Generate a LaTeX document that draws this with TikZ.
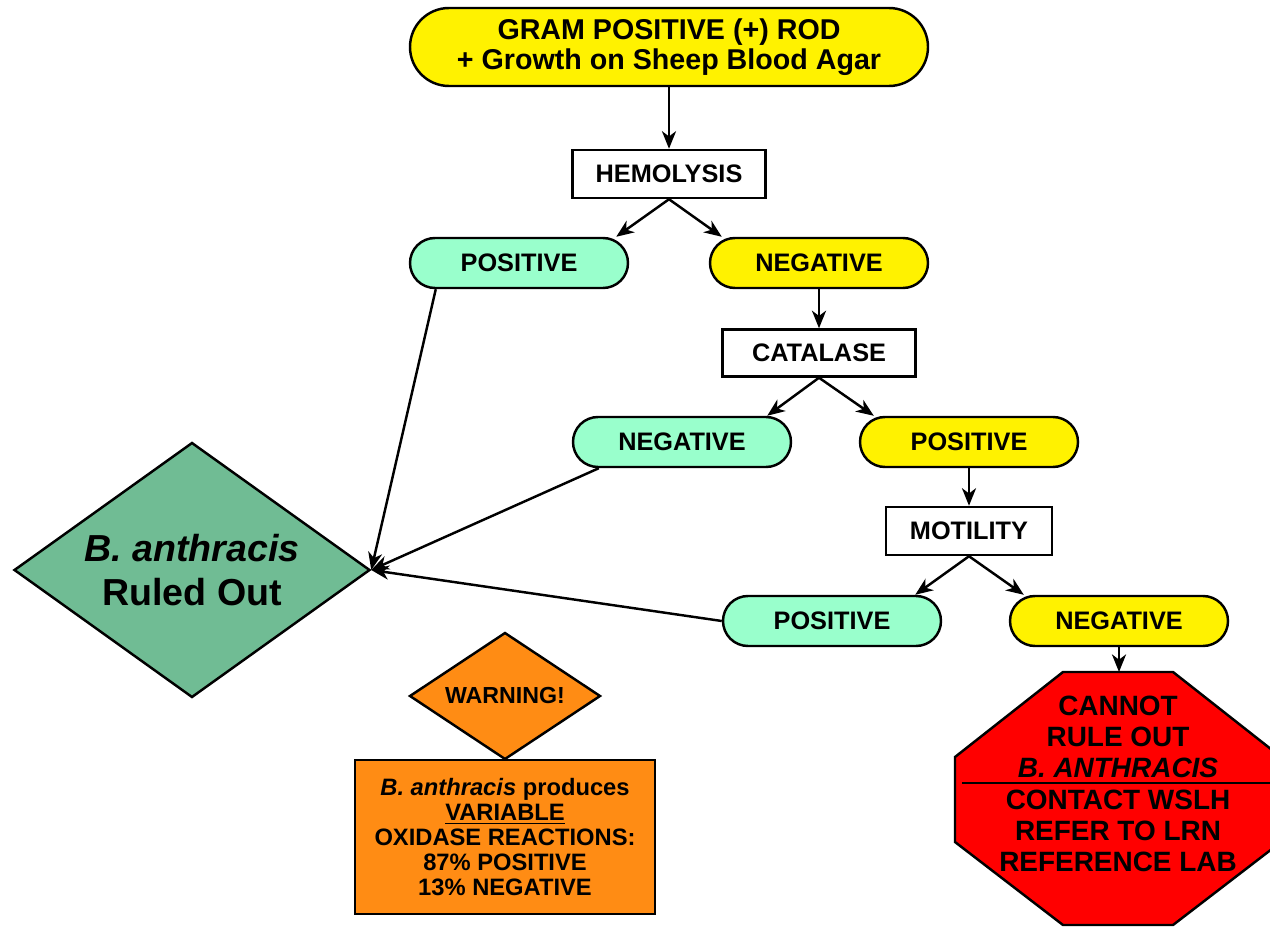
\documentclass[tikz,border=0pt]{standalone}
\usepackage{fontspec}
\setmainfont{Liberation Sans}
\usetikzlibrary{shapes.geometric,arrows.meta}
\definecolor{aqua}{RGB}{153,255,204}
\definecolor{ruledout}{RGB}{112,188,148}
\definecolor{warnorange}{RGB}{255,140,20}
\begin{document}
\begin{tikzpicture}[font=\bfseries]
\tikzstyle{dep}= [-{Stealth[length=10pt,width=8pt,inset=3pt]},line width=1.4pt]
\tikzstyle{test}= [rectangle,draw,line width=1.4pt,fill=white,minimum height=0.96cm,font=\fontsize{14.4}{16}\selectfont\bfseries]
\tikzstyle{res}= [rectangle,draw,line width=1.4pt,rounded corners=0.5cm,minimum width=4.36cm,minimum height=1cm,font=\fontsize{14.4}{16}\selectfont\bfseries]
\tikzstyle{exitres}= [res,fill=aqua]
\tikzstyle{onward}= [res,fill=yellow]
\useasboundingbox (0,0) rectangle (25.4,-18.54);

\path
	(13.38,-0.94) node[onward,rounded corners=0.78cm,minimum width=10.36cm,minimum height=1.56cm,align=center,font=\fontsize{16.3}{17}\selectfont\bfseries] (gram) {GRAM POSITIVE (+) ROD\\+ Growth on Sheep Blood Agar}
	(13.38,-3.48) node[test,minimum width=3.86cm] (hemo) {HEMOLYSIS}
	(10.38,-5.26) node[exitres] (hemopos) {POSITIVE}
	(16.38,-5.26) node[onward] (hemoneg) {NEGATIVE}
	(16.38,-7.06) node[test,minimum width=3.86cm,minimum height=0.94cm] (cat) {CATALASE}
	(13.64,-8.84) node[exitres] (catneg) {NEGATIVE}
	(19.38,-8.84) node[onward] (catpos) {POSITIVE}
	(19.38,-10.62) node[test,minimum width=3.32cm] (mot) {MOTILITY}
	(16.64,-12.42) node[exitres] (motpos) {POSITIVE}
	(22.38,-12.42) node[onward] (motneg) {NEGATIVE}
	(3.84,-11.4) node[diamond,draw,line width=1.4pt,fill=ruledout,inner sep=0pt,aspect=1.4,minimum width=7.12cm,minimum height=5.1cm,align=center,font=\fontsize{21.4}{25}\selectfont\bfseries] (out) {\textit{B. anthracis}\\Ruled Out}
	(10.1,-13.92) node[diamond,draw,line width=1.4pt,fill=warnorange,inner sep=0pt,aspect=1.5,minimum width=3.82cm,minimum height=2.54cm,font=\fontsize{13.2}{14}\selectfont\bfseries] (warn) {WARNING!}
	(10.1,-16.74) node[rectangle,draw,line width=1.4pt,fill=warnorange,minimum width=6cm,minimum height=3.08cm,align=center,font=\fontsize{13.5}{14.2}\selectfont\bfseries] (oxid) {\textit{B. anthracis} produces\\\underline{VARIABLE}\\OXIDASE REACTIONS:\\87\% POSITIVE\\13\% NEGATIVE}
	% stop sign corners
	(21.26,-13.44) coordinate (s1)
	(23.46,-13.44) coordinate (s2)
	(25.62,-15.14) coordinate (s3)
	(25.62,-16.84) coordinate (s4)
	(23.46,-18.5) coordinate (s5)
	(21.26,-18.5) coordinate (s6)
	(19.1,-16.84) coordinate (s7)
	(19.1,-15.14) coordinate (s8)
	(22.38,-13.44) coordinate (stoptop)
	(19.24,-15.66) coordinate (sepl)
	(25.62,-15.66) coordinate (sepr)
;
\draw[line width=1.4pt,fill=red] (s1) -- (s2) -- (s3) -- (s4) -- (s5) -- (s6) -- (s7) -- (s8) -- cycle;
\draw[line width=1.4pt] (sepl) -- (sepr);
\path
	(22.36,-14.74) node[align=center,font=\fontsize{15.9}{17.6}\selectfont\bfseries] (cannot) {CANNOT\\RULE OUT\\\textit{B. ANTHRACIS}}
	(22.36,-16.62) node[align=center,font=\fontsize{15.9}{17.6}\selectfont\bfseries] (refer) {CONTACT WSLH\\REFER TO LRN\\REFERENCE LAB}
;

\draw[dep] (gram) -- (hemo);
\draw[dep] (hemo.south) -- ([xshift=-2.6mm]hemopos.north east);
\draw[dep] (hemo.south) -- ([xshift=2.6mm]hemoneg.north west);
\draw[dep] (hemoneg) -- (cat);
\draw[dep] (cat.south) -- ([xshift=-5mm]catneg.north east);
\draw[dep] (cat.south) -- ([xshift=3mm]catpos.north west);
\draw[dep] (catpos) -- (mot);
\draw[dep] (mot.south) -- ([xshift=-5.4mm]motpos.north east);
\draw[dep] (mot.south) -- ([xshift=3mm]motneg.north west);
\draw[dep] (motneg) -- (stoptop);
\draw[dep] ([xshift=5.4mm]hemopos.south west) -- (out.east);
\draw[dep] ([xshift=5.4mm]catneg.south west) -- (out.east);
\draw[dep] (motpos.west) -- (out.east);
\end{tikzpicture}
\end{document}
